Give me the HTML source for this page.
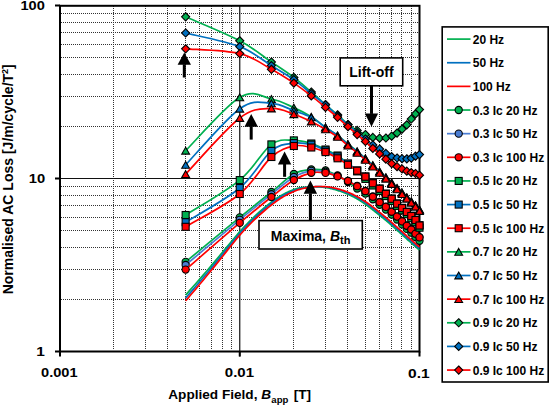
<!DOCTYPE html><html><head><meta charset="utf-8"><style>
html,body{margin:0;padding:0;background:#fff;}
body{width:550px;height:406px;overflow:hidden;position:relative;font-family:"Liberation Sans",sans-serif;}
svg{position:absolute;left:0;top:0;}
.t{font-family:"Liberation Sans",sans-serif;font-weight:bold;fill:#000;}
</style></head><body>
<svg width="550" height="406" viewBox="0 0 550 406">
<g stroke="#000" stroke-width="1" stroke-dasharray="1 1" opacity="0.8"><line x1="61" y1="299.50" x2="418" y2="299.50"/><line x1="61" y1="269.50" x2="418" y2="269.50"/><line x1="61" y1="247.50" x2="418" y2="247.50"/><line x1="61" y1="230.50" x2="418" y2="230.50"/><line x1="61" y1="217.50" x2="418" y2="217.50"/><line x1="61" y1="205.50" x2="418" y2="205.50"/><line x1="61" y1="195.50" x2="418" y2="195.50"/><line x1="61" y1="186.50" x2="418" y2="186.50"/><line x1="61" y1="126.50" x2="418" y2="126.50"/><line x1="61" y1="96.50" x2="418" y2="96.50"/><line x1="61" y1="74.50" x2="418" y2="74.50"/><line x1="61" y1="57.50" x2="418" y2="57.50"/><line x1="61" y1="44.50" x2="418" y2="44.50"/><line x1="61" y1="32.50" x2="418" y2="32.50"/><line x1="61" y1="22.50" x2="418" y2="22.50"/><line x1="61" y1="13.50" x2="418" y2="13.50"/><line x1="113.50" y1="6" x2="113.50" y2="350"/><line x1="145.50" y1="6" x2="145.50" y2="350"/><line x1="167.50" y1="6" x2="167.50" y2="350"/><line x1="185.50" y1="6" x2="185.50" y2="350"/><line x1="199.50" y1="6" x2="199.50" y2="350"/><line x1="211.50" y1="6" x2="211.50" y2="350"/><line x1="222.50" y1="6" x2="222.50" y2="350"/><line x1="231.50" y1="6" x2="231.50" y2="350"/><line x1="293.50" y1="6" x2="293.50" y2="350"/><line x1="325.50" y1="6" x2="325.50" y2="350"/><line x1="347.50" y1="6" x2="347.50" y2="350"/><line x1="365.50" y1="6" x2="365.50" y2="350"/><line x1="379.50" y1="6" x2="379.50" y2="350"/><line x1="391.50" y1="6" x2="391.50" y2="350"/><line x1="401.50" y1="6" x2="401.50" y2="350"/><line x1="411.50" y1="6" x2="411.50" y2="350"/></g>
<g stroke="#111" stroke-width="1.2">
<line x1="55.00" y1="178.50" x2="419.50" y2="178.50"/>
<line x1="239.75" y1="5.50" x2="239.75" y2="356.50"/>
</g>
<rect x="60.00" y="5.80" width="359.50" height="345.70" fill="none" stroke="#000" stroke-width="2"/>
<path d="M185.64,295.00 L187.58,292.85 L189.97,290.18 L192.76,287.03 L195.89,283.49 L199.31,279.59 L202.95,275.39 L206.78,270.96 L210.72,266.34 L214.72,261.60 L218.73,256.81 L222.68,252.04 L226.53,247.39 L230.22,242.93 L233.69,238.75 L236.89,234.95 L239.75,231.60 L242.36,228.79 L244.84,226.17 L247.21,223.73 L249.46,221.44 L251.61,219.31 L253.67,217.31 L255.65,215.43 L257.55,213.67 L259.40,212.00 L261.19,210.43 L262.94,208.93 L264.66,207.49 L266.36,206.09 L268.04,204.74 L269.72,203.41 L271.40,202.10 L273.07,200.83 L274.68,199.66 L276.25,198.56 L277.78,197.55 L279.27,196.61 L280.72,195.74 L282.14,194.93 L283.52,194.17 L284.88,193.48 L286.21,192.82 L287.52,192.21 L288.82,191.64 L290.09,191.09 L291.36,190.58 L292.61,190.08 L293.86,189.60 L295.09,189.16 L296.30,188.77 L297.48,188.44 L298.64,188.16 L299.78,187.92 L300.90,187.72 L302.00,187.56 L303.08,187.43 L304.15,187.33 L305.20,187.24 L306.24,187.17 L307.27,187.11 L308.28,187.06 L309.29,187.01 L310.29,186.96 L311.28,186.90 L312.26,186.84 L313.23,186.80 L314.18,186.78 L315.11,186.76 L316.04,186.77 L316.95,186.78 L317.85,186.81 L318.73,186.85 L319.61,186.90 L320.48,186.96 L321.33,187.03 L322.18,187.11 L323.03,187.20 L323.86,187.29 L324.69,187.39 L325.51,187.50 L326.33,187.62 L327.13,187.75 L327.93,187.89 L328.71,188.04 L329.49,188.20 L330.26,188.38 L331.02,188.56 L331.77,188.75 L332.51,188.94 L333.25,189.14 L333.98,189.35 L334.70,189.55 L335.42,189.76 L336.13,189.98 L336.84,190.19 L337.55,190.40 L338.24,190.61 L338.93,190.83 L339.62,191.05 L340.29,191.28 L340.96,191.51 L341.63,191.74 L342.28,191.98 L342.94,192.22 L343.58,192.46 L344.22,192.71 L344.86,192.96 L345.49,193.21 L346.11,193.47 L346.74,193.72 L347.36,193.99 L347.97,194.25 L348.58,194.52 L349.19,194.79 L349.78,195.06 L350.38,195.34 L350.97,195.62 L351.55,195.90 L352.13,196.19 L352.71,196.48 L353.28,196.77 L353.84,197.07 L354.40,197.37 L354.96,197.67 L355.52,197.97 L356.07,198.28 L356.62,198.59 L357.16,198.90 L357.71,199.21 L358.24,199.53 L358.78,199.86 L359.31,200.18 L359.83,200.51 L360.35,200.84 L360.87,201.18 L361.39,201.51 L361.90,201.85 L362.41,202.19 L362.91,202.53 L363.41,202.88 L363.91,203.22 L364.41,203.56 L364.90,203.91 L365.39,204.25 L365.88,204.60 L366.36,204.94 L366.84,205.29 L367.32,205.65 L367.79,206.00 L368.27,206.36 L368.73,206.71 L369.20,207.07 L369.66,207.43 L370.12,207.79 L370.58,208.14 L371.03,208.50 L371.49,208.85 L371.94,209.20 L372.38,209.55 L372.83,209.90 L373.27,210.24 L373.71,210.59 L374.15,210.93 L374.59,211.27 L375.02,211.62 L375.45,211.96 L375.88,212.30 L376.30,212.63 L376.72,212.97 L377.14,213.31 L377.56,213.64 L377.98,213.98 L378.39,214.31 L378.80,214.64 L379.21,214.97 L379.62,215.30 L380.03,215.63 L380.43,215.95 L380.83,216.28 L381.23,216.60 L381.63,216.92 L382.03,217.24 L382.42,217.56 L382.81,217.88 L383.20,218.19 L383.59,218.51 L383.97,218.82 L384.35,219.14 L384.74,219.45 L385.12,219.77 L385.49,220.08 L385.87,220.40 L386.25,220.72 L386.62,221.03 L386.99,221.35 L387.36,221.66 L387.73,221.98 L388.09,222.29 L388.46,222.61 L388.82,222.92 L389.18,223.23 L389.54,223.54 L389.89,223.86 L390.25,224.17 L390.60,224.48 L390.96,224.79 L391.31,225.09 L391.66,225.40 L392.00,225.71 L392.35,226.01 L392.70,226.32 L393.04,226.62 L393.38,226.92 L393.72,227.23 L394.06,227.53 L394.40,227.83 L394.73,228.13 L395.07,228.43 L395.40,228.73 L395.73,229.03 L396.06,229.32 L396.39,229.62 L396.72,229.91 L397.04,230.20 L397.37,230.49 L397.69,230.78 L398.01,231.07 L398.33,231.35 L398.65,231.64 L398.97,231.92 L399.29,232.20 L399.60,232.48 L399.92,232.76 L400.23,233.04 L400.54,233.32 L400.85,233.60 L401.16,233.87 L401.47,234.15 L401.77,234.42 L402.08,234.70 L402.39,234.97 L402.69,235.25 L402.99,235.52 L403.29,235.80 L403.59,236.07 L403.89,236.34 L404.19,236.62 L404.48,236.89 L404.78,237.16 L405.07,237.43 L405.36,237.69 L405.66,237.96 L405.95,238.22 L406.24,238.48 L406.53,238.74 L406.81,239.00 L407.10,239.26 L407.39,239.51 L407.67,239.76 L407.95,240.01 L408.24,240.26 L408.52,240.50 L408.80,240.74 L409.08,240.99 L409.35,241.23 L409.63,241.47 L409.91,241.71 L410.18,241.95 L410.46,242.19 L410.73,242.42 L411.00,242.66 L411.28,242.90 L411.55,243.14 L411.82,243.37 L412.08,243.61 L412.35,243.85 L412.62,244.08 L412.89,244.32 L413.15,244.55 L413.41,244.78 L413.68,245.01 L413.94,245.24 L414.20,245.47 L414.46,245.70 L414.72,245.93 L414.98,246.15 L415.24,246.38 L415.50,246.60 L415.76,246.83 L416.03,247.06 L416.32,247.30 L416.61,247.55 L416.90,247.80 L417.19,248.05 L417.48,248.29 L417.76,248.53 L418.04,248.76 L418.30,248.99 L418.55,249.20 L418.79,249.40 L419.00,249.58 L419.19,249.74 L419.36,249.88 L419.50,250.00" fill="none" stroke="#00B050" stroke-width="1.7" stroke-linejoin="round"/>
<path d="M185.64,298.00 L187.58,295.80 L189.97,293.07 L192.76,289.86 L195.89,286.23 L199.31,282.25 L202.95,277.96 L206.78,273.43 L210.72,268.72 L214.72,263.88 L218.73,258.99 L222.68,254.13 L226.53,249.38 L230.22,244.84 L233.69,240.58 L236.89,236.71 L239.75,233.30 L242.36,230.44 L244.84,227.77 L247.21,225.28 L249.46,222.95 L251.61,220.78 L253.67,218.75 L255.65,216.84 L257.55,215.05 L259.40,213.36 L261.19,211.76 L262.94,210.23 L264.66,208.77 L266.36,207.36 L268.04,205.98 L269.72,204.64 L271.40,203.30 L273.07,202.01 L274.68,200.82 L276.25,199.72 L277.78,198.70 L279.27,197.75 L280.72,196.87 L282.14,196.06 L283.52,195.30 L284.88,194.60 L286.21,193.94 L287.52,193.32 L288.82,192.73 L290.09,192.17 L291.36,191.63 L292.61,191.11 L293.86,190.60 L295.09,190.12 L296.30,189.69 L297.48,189.31 L298.64,188.98 L299.78,188.68 L300.90,188.43 L302.00,188.20 L303.08,188.01 L304.15,187.84 L305.20,187.69 L306.24,187.55 L307.27,187.43 L308.28,187.32 L309.29,187.22 L310.29,187.11 L311.28,187.00 L312.26,186.90 L313.23,186.81 L314.18,186.74 L315.11,186.69 L316.04,186.65 L316.95,186.63 L317.85,186.62 L318.73,186.62 L319.61,186.64 L320.48,186.67 L321.33,186.70 L322.18,186.75 L323.03,186.80 L323.86,186.86 L324.69,186.93 L325.51,187.00 L326.33,187.08 L327.13,187.18 L327.93,187.28 L328.71,187.40 L329.49,187.53 L330.26,187.67 L331.02,187.81 L331.77,187.97 L332.51,188.13 L333.25,188.30 L333.98,188.47 L334.70,188.65 L335.42,188.84 L336.13,189.02 L336.84,189.21 L337.55,189.40 L338.24,189.59 L338.93,189.79 L339.62,190.00 L340.29,190.21 L340.96,190.43 L341.63,190.66 L342.28,190.89 L342.94,191.12 L343.58,191.36 L344.22,191.60 L344.86,191.84 L345.49,192.09 L346.11,192.34 L346.74,192.59 L347.36,192.84 L347.97,193.10 L348.58,193.36 L349.19,193.62 L349.78,193.88 L350.38,194.15 L350.97,194.42 L351.55,194.70 L352.13,194.98 L352.71,195.26 L353.28,195.54 L353.84,195.83 L354.40,196.12 L354.96,196.41 L355.52,196.70 L356.07,197.00 L356.62,197.30 L357.16,197.60 L357.71,197.91 L358.24,198.21 L358.78,198.53 L359.31,198.84 L359.83,199.16 L360.35,199.49 L360.87,199.81 L361.39,200.14 L361.90,200.47 L362.41,200.80 L362.91,201.13 L363.41,201.46 L363.91,201.80 L364.41,202.13 L364.90,202.47 L365.39,202.80 L365.88,203.14 L366.36,203.47 L366.84,203.81 L367.32,204.15 L367.79,204.50 L368.27,204.84 L368.73,205.19 L369.20,205.53 L369.66,205.88 L370.12,206.22 L370.58,206.57 L371.03,206.92 L371.49,207.26 L371.94,207.61 L372.38,207.96 L372.83,208.30 L373.27,208.64 L373.71,208.99 L374.15,209.34 L374.59,209.68 L375.02,210.03 L375.45,210.38 L375.88,210.73 L376.30,211.08 L376.72,211.42 L377.14,211.77 L377.56,212.11 L377.98,212.45 L378.39,212.79 L378.80,213.13 L379.21,213.47 L379.62,213.80 L380.03,214.13 L380.43,214.46 L380.83,214.78 L381.23,215.11 L381.63,215.43 L382.03,215.75 L382.42,216.06 L382.81,216.38 L383.20,216.70 L383.59,217.01 L383.97,217.33 L384.35,217.64 L384.74,217.96 L385.12,218.27 L385.49,218.58 L385.87,218.90 L386.25,219.22 L386.62,219.53 L386.99,219.85 L387.36,220.16 L387.73,220.48 L388.09,220.79 L388.46,221.11 L388.82,221.42 L389.18,221.73 L389.54,222.04 L389.89,222.36 L390.25,222.67 L390.60,222.98 L390.96,223.29 L391.31,223.59 L391.66,223.90 L392.00,224.21 L392.35,224.51 L392.70,224.82 L393.04,225.12 L393.38,225.42 L393.72,225.73 L394.06,226.03 L394.40,226.33 L394.73,226.63 L395.07,226.93 L395.40,227.23 L395.73,227.53 L396.06,227.82 L396.39,228.12 L396.72,228.41 L397.04,228.70 L397.37,228.99 L397.69,229.28 L398.01,229.57 L398.33,229.85 L398.65,230.14 L398.97,230.42 L399.29,230.70 L399.60,230.98 L399.92,231.26 L400.23,231.54 L400.54,231.82 L400.85,232.10 L401.16,232.37 L401.47,232.65 L401.77,232.92 L402.08,233.20 L402.39,233.47 L402.69,233.75 L402.99,234.02 L403.29,234.30 L403.59,234.57 L403.89,234.84 L404.19,235.12 L404.48,235.39 L404.78,235.66 L405.07,235.93 L405.36,236.19 L405.66,236.46 L405.95,236.72 L406.24,236.98 L406.53,237.24 L406.81,237.50 L407.10,237.76 L407.39,238.01 L407.67,238.26 L407.95,238.51 L408.24,238.76 L408.52,239.00 L408.80,239.24 L409.08,239.49 L409.35,239.73 L409.63,239.97 L409.91,240.21 L410.18,240.45 L410.46,240.69 L410.73,240.92 L411.00,241.16 L411.28,241.40 L411.55,241.64 L411.82,241.87 L412.08,242.11 L412.35,242.35 L412.62,242.58 L412.89,242.82 L413.15,243.05 L413.41,243.28 L413.68,243.51 L413.94,243.74 L414.20,243.97 L414.46,244.20 L414.72,244.43 L414.98,244.65 L415.24,244.88 L415.50,245.10 L415.76,245.33 L416.03,245.56 L416.32,245.80 L416.61,246.05 L416.90,246.30 L417.19,246.55 L417.48,246.79 L417.76,247.03 L418.04,247.26 L418.30,247.49 L418.55,247.70 L418.79,247.90 L419.00,248.08 L419.19,248.24 L419.36,248.38 L419.50,248.50" fill="none" stroke="#0070C0" stroke-width="1.7" stroke-linejoin="round"/>
<path d="M185.64,300.80 L187.58,298.57 L189.97,295.79 L192.76,292.52 L195.89,288.83 L199.31,284.78 L202.95,280.42 L206.78,275.82 L210.72,271.02 L214.72,266.11 L218.73,261.14 L222.68,256.21 L226.53,251.39 L230.22,246.78 L233.69,242.47 L236.89,238.55 L239.75,235.10 L242.36,232.21 L244.84,229.52 L247.21,227.02 L249.46,224.68 L251.61,222.51 L253.67,220.48 L255.65,218.57 L257.55,216.79 L259.40,215.10 L261.19,213.51 L262.94,211.99 L264.66,210.52 L266.36,209.11 L268.04,207.72 L269.72,206.36 L271.40,205.00 L273.07,203.68 L274.68,202.46 L276.25,201.31 L277.78,200.24 L279.27,199.25 L280.72,198.32 L282.14,197.45 L283.52,196.64 L284.88,195.88 L286.21,195.17 L287.52,194.49 L288.82,193.85 L290.09,193.23 L291.36,192.64 L292.61,192.06 L293.86,191.50 L295.09,190.97 L296.30,190.49 L297.48,190.05 L298.64,189.67 L299.78,189.32 L300.90,189.01 L302.00,188.73 L303.08,188.48 L304.15,188.26 L305.20,188.06 L306.24,187.87 L307.27,187.71 L308.28,187.55 L309.29,187.40 L310.29,187.25 L311.28,187.10 L312.26,186.96 L313.23,186.84 L314.18,186.74 L315.11,186.66 L316.04,186.60 L316.95,186.55 L317.85,186.51 L318.73,186.49 L319.61,186.49 L320.48,186.49 L321.33,186.51 L322.18,186.53 L323.03,186.56 L323.86,186.60 L324.69,186.65 L325.51,186.70 L326.33,186.76 L327.13,186.83 L327.93,186.92 L328.71,187.02 L329.49,187.12 L330.26,187.24 L331.02,187.37 L331.77,187.51 L332.51,187.65 L333.25,187.80 L333.98,187.96 L334.70,188.12 L335.42,188.28 L336.13,188.45 L336.84,188.63 L337.55,188.80 L338.24,188.98 L338.93,189.17 L339.62,189.36 L340.29,189.56 L340.96,189.76 L341.63,189.97 L342.28,190.19 L342.94,190.41 L343.58,190.64 L344.22,190.87 L344.86,191.10 L345.49,191.34 L346.11,191.57 L346.74,191.81 L347.36,192.06 L347.97,192.30 L348.58,192.55 L349.19,192.79 L349.78,193.05 L350.38,193.30 L350.97,193.56 L351.55,193.82 L352.13,194.09 L352.71,194.36 L353.28,194.63 L353.84,194.90 L354.40,195.18 L354.96,195.46 L355.52,195.74 L356.07,196.02 L356.62,196.31 L357.16,196.60 L357.71,196.89 L358.24,197.19 L358.78,197.49 L359.31,197.79 L359.83,198.10 L360.35,198.41 L360.87,198.72 L361.39,199.04 L361.90,199.35 L362.41,199.67 L362.91,199.99 L363.41,200.31 L363.91,200.63 L364.41,200.96 L364.90,201.28 L365.39,201.60 L365.88,201.92 L366.36,202.25 L366.84,202.57 L367.32,202.90 L367.79,203.23 L368.27,203.56 L368.73,203.89 L369.20,204.23 L369.66,204.56 L370.12,204.89 L370.58,205.23 L371.03,205.56 L371.49,205.90 L371.94,206.23 L372.38,206.57 L372.83,206.90 L373.27,207.24 L373.71,207.57 L374.15,207.91 L374.59,208.25 L375.02,208.59 L375.45,208.93 L375.88,209.27 L376.30,209.61 L376.72,209.95 L377.14,210.29 L377.56,210.63 L377.98,210.97 L378.39,211.30 L378.80,211.64 L379.21,211.97 L379.62,212.30 L380.03,212.63 L380.43,212.95 L380.83,213.28 L381.23,213.60 L381.63,213.92 L382.03,214.24 L382.42,214.56 L382.81,214.88 L383.20,215.19 L383.59,215.51 L383.97,215.82 L384.35,216.14 L384.74,216.45 L385.12,216.77 L385.49,217.08 L385.87,217.40 L386.25,217.72 L386.62,218.03 L386.99,218.35 L387.36,218.66 L387.73,218.98 L388.09,219.29 L388.46,219.61 L388.82,219.92 L389.18,220.23 L389.54,220.54 L389.89,220.86 L390.25,221.17 L390.60,221.48 L390.96,221.79 L391.31,222.09 L391.66,222.40 L392.00,222.71 L392.35,223.01 L392.70,223.32 L393.04,223.62 L393.38,223.92 L393.72,224.23 L394.06,224.53 L394.40,224.83 L394.73,225.13 L395.07,225.43 L395.40,225.73 L395.73,226.03 L396.06,226.32 L396.39,226.62 L396.72,226.91 L397.04,227.20 L397.37,227.49 L397.69,227.78 L398.01,228.07 L398.33,228.35 L398.65,228.64 L398.97,228.92 L399.29,229.20 L399.60,229.48 L399.92,229.76 L400.23,230.04 L400.54,230.32 L400.85,230.60 L401.16,230.87 L401.47,231.15 L401.77,231.42 L402.08,231.70 L402.39,231.97 L402.69,232.25 L402.99,232.52 L403.29,232.80 L403.59,233.07 L403.89,233.34 L404.19,233.62 L404.48,233.89 L404.78,234.16 L405.07,234.43 L405.36,234.69 L405.66,234.96 L405.95,235.22 L406.24,235.48 L406.53,235.74 L406.81,236.00 L407.10,236.26 L407.39,236.51 L407.67,236.76 L407.95,237.01 L408.24,237.26 L408.52,237.50 L408.80,237.74 L409.08,237.99 L409.35,238.23 L409.63,238.47 L409.91,238.71 L410.18,238.95 L410.46,239.19 L410.73,239.42 L411.00,239.66 L411.28,239.90 L411.55,240.14 L411.82,240.37 L412.08,240.61 L412.35,240.85 L412.62,241.08 L412.89,241.32 L413.15,241.55 L413.41,241.78 L413.68,242.01 L413.94,242.24 L414.20,242.47 L414.46,242.70 L414.72,242.93 L414.98,243.15 L415.24,243.38 L415.50,243.60 L415.76,243.83 L416.03,244.06 L416.32,244.30 L416.61,244.55 L416.90,244.80 L417.19,245.05 L417.48,245.29 L417.76,245.53 L418.04,245.76 L418.30,245.99 L418.55,246.20 L418.79,246.40 L419.00,246.58 L419.19,246.74 L419.36,246.88 L419.50,247.00" fill="none" stroke="#FF0000" stroke-width="1.7" stroke-linejoin="round"/>
<path d="M185.64,261.90 C194.66,254.48 225.46,229.05 239.75,217.40 C254.04,205.75 262.38,199.23 271.40,192.00 C280.42,184.77 287.21,177.75 293.86,174.00 C300.51,170.25 306.00,170.08 311.28,169.50 C316.56,168.92 321.13,169.50 325.51,170.50 C329.89,171.50 333.80,173.58 337.55,175.50 C341.29,177.42 344.70,179.83 347.97,182.00 C351.24,184.17 354.26,186.57 357.16,188.50 C360.07,190.43 362.78,191.80 365.39,193.60 C368.00,195.40 370.46,197.43 372.83,199.30 C375.20,201.17 377.45,203.08 379.62,204.80 C381.80,206.52 383.87,207.97 385.87,209.60 C387.88,211.23 389.79,212.95 391.66,214.60 C393.52,216.25 395.30,217.87 397.04,219.50 C398.78,221.13 400.45,222.83 402.08,224.40 C403.71,225.97 405.28,227.52 406.81,228.90 C408.35,230.28 409.83,231.35 411.28,232.70 C412.72,234.05 414.12,235.65 415.50,237.00 C416.87,238.35 418.83,240.17 419.50,240.80" fill="none" stroke="#00B050" stroke-width="1.7" stroke-linejoin="round"/>
<circle cx="185.64" cy="261.90" r="3.60" fill="#00B050" stroke="#000" stroke-width="1.10"/><circle cx="239.75" cy="217.40" r="3.60" fill="#00B050" stroke="#000" stroke-width="1.10"/><circle cx="271.40" cy="192.00" r="3.60" fill="#00B050" stroke="#000" stroke-width="1.10"/><circle cx="293.86" cy="174.00" r="3.60" fill="#00B050" stroke="#000" stroke-width="1.10"/><circle cx="311.28" cy="169.50" r="3.60" fill="#00B050" stroke="#000" stroke-width="1.10"/><circle cx="325.51" cy="170.50" r="3.60" fill="#00B050" stroke="#000" stroke-width="1.10"/><circle cx="337.55" cy="175.50" r="3.60" fill="#00B050" stroke="#000" stroke-width="1.10"/><circle cx="347.97" cy="182.00" r="3.60" fill="#00B050" stroke="#000" stroke-width="1.10"/><circle cx="357.16" cy="188.50" r="3.60" fill="#00B050" stroke="#000" stroke-width="1.10"/><circle cx="365.39" cy="193.60" r="3.60" fill="#00B050" stroke="#000" stroke-width="1.10"/><circle cx="372.83" cy="199.30" r="3.60" fill="#00B050" stroke="#000" stroke-width="1.10"/><circle cx="379.62" cy="204.80" r="3.60" fill="#00B050" stroke="#000" stroke-width="1.10"/><circle cx="385.87" cy="209.60" r="3.60" fill="#00B050" stroke="#000" stroke-width="1.10"/><circle cx="391.66" cy="214.60" r="3.60" fill="#00B050" stroke="#000" stroke-width="1.10"/><circle cx="397.04" cy="219.50" r="3.60" fill="#00B050" stroke="#000" stroke-width="1.10"/><circle cx="402.08" cy="224.40" r="3.60" fill="#00B050" stroke="#000" stroke-width="1.10"/><circle cx="406.81" cy="228.90" r="3.60" fill="#00B050" stroke="#000" stroke-width="1.10"/><circle cx="411.28" cy="232.70" r="3.60" fill="#00B050" stroke="#000" stroke-width="1.10"/><circle cx="415.50" cy="237.00" r="3.60" fill="#00B050" stroke="#000" stroke-width="1.10"/><circle cx="419.50" cy="240.80" r="3.60" fill="#00B050" stroke="#000" stroke-width="1.10"/>
<path d="M185.64,265.00 C194.66,257.47 225.46,231.60 239.75,219.80 C254.04,208.00 262.38,201.33 271.40,194.20 C280.42,187.07 287.21,180.90 293.86,177.00 C300.51,173.10 306.00,171.67 311.28,170.80 C316.56,169.93 321.13,170.93 325.51,171.80 C329.89,172.67 333.80,174.47 337.55,176.00 C341.29,177.53 344.70,179.35 347.97,181.00 C351.24,182.65 354.26,184.25 357.16,185.90 C360.07,187.55 362.78,189.13 365.39,190.90 C368.00,192.67 370.46,194.67 372.83,196.50 C375.20,198.33 377.45,200.22 379.62,201.90 C381.80,203.58 383.87,205.00 385.87,206.60 C387.88,208.20 389.79,209.88 391.66,211.50 C393.52,213.12 395.30,214.70 397.04,216.30 C398.78,217.90 400.45,219.57 402.08,221.10 C403.71,222.63 405.28,224.15 406.81,225.50 C408.35,226.85 409.83,227.88 411.28,229.20 C412.72,230.52 414.12,232.08 415.50,233.40 C416.87,234.72 418.83,236.48 419.50,237.10" fill="none" stroke="#4A7DD3" stroke-width="1.7" stroke-linejoin="round"/>
<circle cx="185.64" cy="265.00" r="3.60" fill="#4A7DD3" stroke="#000" stroke-width="1.10"/><circle cx="239.75" cy="219.80" r="3.60" fill="#4A7DD3" stroke="#000" stroke-width="1.10"/><circle cx="271.40" cy="194.20" r="3.60" fill="#4A7DD3" stroke="#000" stroke-width="1.10"/><circle cx="293.86" cy="177.00" r="3.60" fill="#4A7DD3" stroke="#000" stroke-width="1.10"/><circle cx="311.28" cy="170.80" r="3.60" fill="#4A7DD3" stroke="#000" stroke-width="1.10"/><circle cx="325.51" cy="171.80" r="3.60" fill="#4A7DD3" stroke="#000" stroke-width="1.10"/><circle cx="337.55" cy="176.00" r="3.60" fill="#4A7DD3" stroke="#000" stroke-width="1.10"/><circle cx="347.97" cy="181.00" r="3.60" fill="#4A7DD3" stroke="#000" stroke-width="1.10"/><circle cx="357.16" cy="185.90" r="3.60" fill="#4A7DD3" stroke="#000" stroke-width="1.10"/><circle cx="365.39" cy="190.90" r="3.60" fill="#4A7DD3" stroke="#000" stroke-width="1.10"/><circle cx="372.83" cy="196.50" r="3.60" fill="#4A7DD3" stroke="#000" stroke-width="1.10"/><circle cx="379.62" cy="201.90" r="3.60" fill="#4A7DD3" stroke="#000" stroke-width="1.10"/><circle cx="385.87" cy="206.60" r="3.60" fill="#4A7DD3" stroke="#000" stroke-width="1.10"/><circle cx="391.66" cy="211.50" r="3.60" fill="#4A7DD3" stroke="#000" stroke-width="1.10"/><circle cx="397.04" cy="216.30" r="3.60" fill="#4A7DD3" stroke="#000" stroke-width="1.10"/><circle cx="402.08" cy="221.10" r="3.60" fill="#4A7DD3" stroke="#000" stroke-width="1.10"/><circle cx="406.81" cy="225.50" r="3.60" fill="#4A7DD3" stroke="#000" stroke-width="1.10"/><circle cx="411.28" cy="229.20" r="3.60" fill="#4A7DD3" stroke="#000" stroke-width="1.10"/><circle cx="415.50" cy="233.40" r="3.60" fill="#4A7DD3" stroke="#000" stroke-width="1.10"/><circle cx="419.50" cy="237.10" r="3.60" fill="#4A7DD3" stroke="#000" stroke-width="1.10"/>
<path d="M185.64,269.60 C194.66,261.82 225.46,235.00 239.75,222.90 C254.04,210.80 262.38,204.15 271.40,197.00 C280.42,189.85 287.21,184.03 293.86,180.00 C300.51,175.97 306.00,173.98 311.28,172.80 C316.56,171.62 321.13,172.30 325.51,172.90 C329.89,173.50 333.80,175.05 337.55,176.40 C341.29,177.75 344.70,179.37 347.97,181.00 C351.24,182.63 354.26,184.50 357.16,186.20 C360.07,187.90 362.78,189.43 365.39,191.20 C368.00,192.97 370.46,194.97 372.83,196.80 C375.20,198.63 377.45,200.52 379.62,202.20 C381.80,203.88 383.87,205.30 385.87,206.90 C387.88,208.50 389.79,210.18 391.66,211.80 C393.52,213.42 395.30,215.00 397.04,216.60 C398.78,218.20 400.45,219.87 402.08,221.40 C403.71,222.93 405.28,224.45 406.81,225.80 C408.35,227.15 409.83,228.18 411.28,229.50 C412.72,230.82 414.12,232.38 415.50,233.70 C416.87,235.02 418.83,236.78 419.50,237.40" fill="none" stroke="#FF0000" stroke-width="1.7" stroke-linejoin="round"/>
<circle cx="185.64" cy="269.60" r="3.60" fill="#FF0000" stroke="#000" stroke-width="1.10"/><circle cx="239.75" cy="222.90" r="3.60" fill="#FF0000" stroke="#000" stroke-width="1.10"/><circle cx="271.40" cy="197.00" r="3.60" fill="#FF0000" stroke="#000" stroke-width="1.10"/><circle cx="293.86" cy="180.00" r="3.60" fill="#FF0000" stroke="#000" stroke-width="1.10"/><circle cx="311.28" cy="172.80" r="3.60" fill="#FF0000" stroke="#000" stroke-width="1.10"/><circle cx="325.51" cy="172.90" r="3.60" fill="#FF0000" stroke="#000" stroke-width="1.10"/><circle cx="337.55" cy="176.40" r="3.60" fill="#FF0000" stroke="#000" stroke-width="1.10"/><circle cx="347.97" cy="181.00" r="3.60" fill="#FF0000" stroke="#000" stroke-width="1.10"/><circle cx="357.16" cy="186.20" r="3.60" fill="#FF0000" stroke="#000" stroke-width="1.10"/><circle cx="365.39" cy="191.20" r="3.60" fill="#FF0000" stroke="#000" stroke-width="1.10"/><circle cx="372.83" cy="196.80" r="3.60" fill="#FF0000" stroke="#000" stroke-width="1.10"/><circle cx="379.62" cy="202.20" r="3.60" fill="#FF0000" stroke="#000" stroke-width="1.10"/><circle cx="385.87" cy="206.90" r="3.60" fill="#FF0000" stroke="#000" stroke-width="1.10"/><circle cx="391.66" cy="211.80" r="3.60" fill="#FF0000" stroke="#000" stroke-width="1.10"/><circle cx="397.04" cy="216.60" r="3.60" fill="#FF0000" stroke="#000" stroke-width="1.10"/><circle cx="402.08" cy="221.40" r="3.60" fill="#FF0000" stroke="#000" stroke-width="1.10"/><circle cx="406.81" cy="225.80" r="3.60" fill="#FF0000" stroke="#000" stroke-width="1.10"/><circle cx="411.28" cy="229.50" r="3.60" fill="#FF0000" stroke="#000" stroke-width="1.10"/><circle cx="415.50" cy="233.70" r="3.60" fill="#FF0000" stroke="#000" stroke-width="1.10"/><circle cx="419.50" cy="237.40" r="3.60" fill="#FF0000" stroke="#000" stroke-width="1.10"/>
<path d="M185.64,215.00 C194.66,209.18 225.46,191.87 239.75,180.10 C254.04,168.33 262.38,151.02 271.40,144.40 C280.42,137.78 287.21,140.55 293.86,140.40 C300.51,140.25 306.00,141.98 311.28,143.50 C316.56,145.02 321.13,147.50 325.51,149.50 C329.89,151.50 333.80,153.12 337.55,155.50 C341.29,157.88 344.70,161.15 347.97,163.80 C351.24,166.45 354.26,168.88 357.16,171.40 C360.07,173.92 362.78,176.55 365.39,178.90 C368.00,181.25 370.46,183.48 372.83,185.50 C375.20,187.52 377.45,189.23 379.62,191.00 C381.80,192.77 383.87,194.43 385.87,196.10 C387.88,197.77 389.79,199.37 391.66,201.00 C393.52,202.63 395.30,204.35 397.04,205.90 C398.78,207.45 400.45,208.92 402.08,210.30 C403.71,211.68 405.28,212.88 406.81,214.20 C408.35,215.52 409.83,216.87 411.28,218.20 C412.72,219.53 414.12,220.62 415.50,222.20 C416.87,223.78 418.83,226.78 419.50,227.70" fill="none" stroke="#00B050" stroke-width="1.7" stroke-linejoin="round"/>
<rect x="182.14" y="211.50" width="7.00" height="7.00" fill="#00B050" stroke="#000" stroke-width="1.10"/><rect x="236.25" y="176.60" width="7.00" height="7.00" fill="#00B050" stroke="#000" stroke-width="1.10"/><rect x="267.90" y="140.90" width="7.00" height="7.00" fill="#00B050" stroke="#000" stroke-width="1.10"/><rect x="290.36" y="136.90" width="7.00" height="7.00" fill="#00B050" stroke="#000" stroke-width="1.10"/><rect x="307.78" y="140.00" width="7.00" height="7.00" fill="#00B050" stroke="#000" stroke-width="1.10"/><rect x="322.01" y="146.00" width="7.00" height="7.00" fill="#00B050" stroke="#000" stroke-width="1.10"/><rect x="334.05" y="152.00" width="7.00" height="7.00" fill="#00B050" stroke="#000" stroke-width="1.10"/><rect x="344.47" y="160.30" width="7.00" height="7.00" fill="#00B050" stroke="#000" stroke-width="1.10"/><rect x="353.66" y="167.90" width="7.00" height="7.00" fill="#00B050" stroke="#000" stroke-width="1.10"/><rect x="361.89" y="175.40" width="7.00" height="7.00" fill="#00B050" stroke="#000" stroke-width="1.10"/><rect x="369.33" y="182.00" width="7.00" height="7.00" fill="#00B050" stroke="#000" stroke-width="1.10"/><rect x="376.12" y="187.50" width="7.00" height="7.00" fill="#00B050" stroke="#000" stroke-width="1.10"/><rect x="382.37" y="192.60" width="7.00" height="7.00" fill="#00B050" stroke="#000" stroke-width="1.10"/><rect x="388.16" y="197.50" width="7.00" height="7.00" fill="#00B050" stroke="#000" stroke-width="1.10"/><rect x="393.54" y="202.40" width="7.00" height="7.00" fill="#00B050" stroke="#000" stroke-width="1.10"/><rect x="398.58" y="206.80" width="7.00" height="7.00" fill="#00B050" stroke="#000" stroke-width="1.10"/><rect x="403.31" y="210.70" width="7.00" height="7.00" fill="#00B050" stroke="#000" stroke-width="1.10"/><rect x="407.78" y="214.70" width="7.00" height="7.00" fill="#00B050" stroke="#000" stroke-width="1.10"/><rect x="412.00" y="218.70" width="7.00" height="7.00" fill="#00B050" stroke="#000" stroke-width="1.10"/><rect x="416.00" y="224.20" width="7.00" height="7.00" fill="#00B050" stroke="#000" stroke-width="1.10"/>
<path d="M185.64,222.20 C194.66,216.50 225.46,199.88 239.75,188.00 C254.04,176.12 262.38,158.38 271.40,150.90 C280.42,143.42 287.21,144.15 293.86,143.10 C300.51,142.05 306.00,143.38 311.28,144.60 C316.56,145.82 321.13,148.43 325.51,150.40 C329.89,152.37 333.80,154.22 337.55,156.40 C341.29,158.58 344.70,161.17 347.97,163.50 C351.24,165.83 354.26,168.25 357.16,170.40 C360.07,172.55 362.78,174.30 365.39,176.40 C368.00,178.50 370.46,180.98 372.83,183.00 C375.20,185.02 377.45,186.73 379.62,188.50 C381.80,190.27 383.87,191.93 385.87,193.60 C387.88,195.27 389.79,196.87 391.66,198.50 C393.52,200.13 395.30,201.85 397.04,203.40 C398.78,204.95 400.45,206.42 402.08,207.80 C403.71,209.18 405.28,210.38 406.81,211.70 C408.35,213.02 409.83,214.37 411.28,215.70 C412.72,217.03 414.12,218.12 415.50,219.70 C416.87,221.28 418.83,224.28 419.50,225.20" fill="none" stroke="#0070C0" stroke-width="1.7" stroke-linejoin="round"/>
<rect x="182.14" y="218.70" width="7.00" height="7.00" fill="#0070C0" stroke="#000" stroke-width="1.10"/><rect x="236.25" y="184.50" width="7.00" height="7.00" fill="#0070C0" stroke="#000" stroke-width="1.10"/><rect x="267.90" y="147.40" width="7.00" height="7.00" fill="#0070C0" stroke="#000" stroke-width="1.10"/><rect x="290.36" y="139.60" width="7.00" height="7.00" fill="#0070C0" stroke="#000" stroke-width="1.10"/><rect x="307.78" y="141.10" width="7.00" height="7.00" fill="#0070C0" stroke="#000" stroke-width="1.10"/><rect x="322.01" y="146.90" width="7.00" height="7.00" fill="#0070C0" stroke="#000" stroke-width="1.10"/><rect x="334.05" y="152.90" width="7.00" height="7.00" fill="#0070C0" stroke="#000" stroke-width="1.10"/><rect x="344.47" y="160.00" width="7.00" height="7.00" fill="#0070C0" stroke="#000" stroke-width="1.10"/><rect x="353.66" y="166.90" width="7.00" height="7.00" fill="#0070C0" stroke="#000" stroke-width="1.10"/><rect x="361.89" y="172.90" width="7.00" height="7.00" fill="#0070C0" stroke="#000" stroke-width="1.10"/><rect x="369.33" y="179.50" width="7.00" height="7.00" fill="#0070C0" stroke="#000" stroke-width="1.10"/><rect x="376.12" y="185.00" width="7.00" height="7.00" fill="#0070C0" stroke="#000" stroke-width="1.10"/><rect x="382.37" y="190.10" width="7.00" height="7.00" fill="#0070C0" stroke="#000" stroke-width="1.10"/><rect x="388.16" y="195.00" width="7.00" height="7.00" fill="#0070C0" stroke="#000" stroke-width="1.10"/><rect x="393.54" y="199.90" width="7.00" height="7.00" fill="#0070C0" stroke="#000" stroke-width="1.10"/><rect x="398.58" y="204.30" width="7.00" height="7.00" fill="#0070C0" stroke="#000" stroke-width="1.10"/><rect x="403.31" y="208.20" width="7.00" height="7.00" fill="#0070C0" stroke="#000" stroke-width="1.10"/><rect x="407.78" y="212.20" width="7.00" height="7.00" fill="#0070C0" stroke="#000" stroke-width="1.10"/><rect x="412.00" y="216.20" width="7.00" height="7.00" fill="#0070C0" stroke="#000" stroke-width="1.10"/><rect x="416.00" y="221.70" width="7.00" height="7.00" fill="#0070C0" stroke="#000" stroke-width="1.10"/>
<path d="M185.64,226.80 C194.66,221.33 225.46,205.63 239.75,194.00 C254.04,182.37 262.38,165.00 271.40,157.00 C280.42,149.00 287.21,147.58 293.86,146.00 C300.51,144.42 306.00,146.48 311.28,147.50 C316.56,148.52 321.13,150.30 325.51,152.10 C329.89,153.90 333.80,156.18 337.55,158.30 C341.29,160.42 344.70,162.73 347.97,164.80 C351.24,166.87 354.26,168.72 357.16,170.70 C360.07,172.68 362.78,174.60 365.39,176.70 C368.00,178.80 370.46,181.28 372.83,183.30 C375.20,185.32 377.45,187.03 379.62,188.80 C381.80,190.57 383.87,192.23 385.87,193.90 C387.88,195.57 389.79,197.17 391.66,198.80 C393.52,200.43 395.30,202.15 397.04,203.70 C398.78,205.25 400.45,206.72 402.08,208.10 C403.71,209.48 405.28,210.68 406.81,212.00 C408.35,213.32 409.83,214.67 411.28,216.00 C412.72,217.33 414.12,218.42 415.50,220.00 C416.87,221.58 418.83,224.58 419.50,225.50" fill="none" stroke="#FF0000" stroke-width="1.7" stroke-linejoin="round"/>
<rect x="182.14" y="223.30" width="7.00" height="7.00" fill="#FF0000" stroke="#000" stroke-width="1.10"/><rect x="236.25" y="190.50" width="7.00" height="7.00" fill="#FF0000" stroke="#000" stroke-width="1.10"/><rect x="267.90" y="153.50" width="7.00" height="7.00" fill="#FF0000" stroke="#000" stroke-width="1.10"/><rect x="290.36" y="142.50" width="7.00" height="7.00" fill="#FF0000" stroke="#000" stroke-width="1.10"/><rect x="307.78" y="144.00" width="7.00" height="7.00" fill="#FF0000" stroke="#000" stroke-width="1.10"/><rect x="322.01" y="148.60" width="7.00" height="7.00" fill="#FF0000" stroke="#000" stroke-width="1.10"/><rect x="334.05" y="154.80" width="7.00" height="7.00" fill="#FF0000" stroke="#000" stroke-width="1.10"/><rect x="344.47" y="161.30" width="7.00" height="7.00" fill="#FF0000" stroke="#000" stroke-width="1.10"/><rect x="353.66" y="167.20" width="7.00" height="7.00" fill="#FF0000" stroke="#000" stroke-width="1.10"/><rect x="361.89" y="173.20" width="7.00" height="7.00" fill="#FF0000" stroke="#000" stroke-width="1.10"/><rect x="369.33" y="179.80" width="7.00" height="7.00" fill="#FF0000" stroke="#000" stroke-width="1.10"/><rect x="376.12" y="185.30" width="7.00" height="7.00" fill="#FF0000" stroke="#000" stroke-width="1.10"/><rect x="382.37" y="190.40" width="7.00" height="7.00" fill="#FF0000" stroke="#000" stroke-width="1.10"/><rect x="388.16" y="195.30" width="7.00" height="7.00" fill="#FF0000" stroke="#000" stroke-width="1.10"/><rect x="393.54" y="200.20" width="7.00" height="7.00" fill="#FF0000" stroke="#000" stroke-width="1.10"/><rect x="398.58" y="204.60" width="7.00" height="7.00" fill="#FF0000" stroke="#000" stroke-width="1.10"/><rect x="403.31" y="208.50" width="7.00" height="7.00" fill="#FF0000" stroke="#000" stroke-width="1.10"/><rect x="407.78" y="212.50" width="7.00" height="7.00" fill="#FF0000" stroke="#000" stroke-width="1.10"/><rect x="412.00" y="216.50" width="7.00" height="7.00" fill="#FF0000" stroke="#000" stroke-width="1.10"/><rect x="416.00" y="222.00" width="7.00" height="7.00" fill="#FF0000" stroke="#000" stroke-width="1.10"/>
<path d="M185.64,150.70 C194.66,141.80 225.46,105.92 239.75,97.30 C254.04,88.68 262.38,97.28 271.40,99.00 C280.42,100.72 287.21,104.63 293.86,107.60 C300.51,110.57 306.00,113.52 311.28,116.80 C316.56,120.08 321.13,124.20 325.51,127.30 C329.89,130.40 333.80,132.60 337.55,135.40 C341.29,138.20 344.70,141.45 347.97,144.10 C351.24,146.75 354.26,148.93 357.16,151.30 C360.07,153.67 362.78,156.00 365.39,158.30 C368.00,160.60 370.46,162.93 372.83,165.10 C375.20,167.27 377.45,169.28 379.62,171.30 C381.80,173.32 383.87,175.33 385.87,177.20 C387.88,179.07 389.79,180.72 391.66,182.50 C393.52,184.28 395.30,186.22 397.04,187.90 C398.78,189.58 400.45,191.05 402.08,192.60 C403.71,194.15 405.28,195.77 406.81,197.20 C408.35,198.63 409.83,199.87 411.28,201.20 C412.72,202.53 414.12,203.82 415.50,205.20 C416.87,206.58 418.83,208.78 419.50,209.50" fill="none" stroke="#00B050" stroke-width="1.7" stroke-linejoin="round"/>
<path d="M185.64,147.30 L189.54,154.10 L181.74,154.10 Z" fill="#00B050" stroke="#000" stroke-width="1.10" stroke-linejoin="miter"/><path d="M239.75,93.90 L243.65,100.70 L235.85,100.70 Z" fill="#00B050" stroke="#000" stroke-width="1.10" stroke-linejoin="miter"/><path d="M271.40,95.60 L275.30,102.40 L267.50,102.40 Z" fill="#00B050" stroke="#000" stroke-width="1.10" stroke-linejoin="miter"/><path d="M293.86,104.20 L297.76,111.00 L289.96,111.00 Z" fill="#00B050" stroke="#000" stroke-width="1.10" stroke-linejoin="miter"/><path d="M311.28,113.40 L315.18,120.20 L307.38,120.20 Z" fill="#00B050" stroke="#000" stroke-width="1.10" stroke-linejoin="miter"/><path d="M325.51,123.90 L329.41,130.70 L321.61,130.70 Z" fill="#00B050" stroke="#000" stroke-width="1.10" stroke-linejoin="miter"/><path d="M337.55,132.00 L341.45,138.80 L333.65,138.80 Z" fill="#00B050" stroke="#000" stroke-width="1.10" stroke-linejoin="miter"/><path d="M347.97,140.70 L351.87,147.50 L344.07,147.50 Z" fill="#00B050" stroke="#000" stroke-width="1.10" stroke-linejoin="miter"/><path d="M357.16,147.90 L361.06,154.70 L353.26,154.70 Z" fill="#00B050" stroke="#000" stroke-width="1.10" stroke-linejoin="miter"/><path d="M365.39,154.90 L369.29,161.70 L361.49,161.70 Z" fill="#00B050" stroke="#000" stroke-width="1.10" stroke-linejoin="miter"/><path d="M372.83,161.70 L376.73,168.50 L368.93,168.50 Z" fill="#00B050" stroke="#000" stroke-width="1.10" stroke-linejoin="miter"/><path d="M379.62,167.90 L383.52,174.70 L375.72,174.70 Z" fill="#00B050" stroke="#000" stroke-width="1.10" stroke-linejoin="miter"/><path d="M385.87,173.80 L389.77,180.60 L381.97,180.60 Z" fill="#00B050" stroke="#000" stroke-width="1.10" stroke-linejoin="miter"/><path d="M391.66,179.10 L395.56,185.90 L387.76,185.90 Z" fill="#00B050" stroke="#000" stroke-width="1.10" stroke-linejoin="miter"/><path d="M397.04,184.50 L400.94,191.30 L393.14,191.30 Z" fill="#00B050" stroke="#000" stroke-width="1.10" stroke-linejoin="miter"/><path d="M402.08,189.20 L405.98,196.00 L398.18,196.00 Z" fill="#00B050" stroke="#000" stroke-width="1.10" stroke-linejoin="miter"/><path d="M406.81,193.80 L410.71,200.60 L402.91,200.60 Z" fill="#00B050" stroke="#000" stroke-width="1.10" stroke-linejoin="miter"/><path d="M411.28,197.80 L415.18,204.60 L407.38,204.60 Z" fill="#00B050" stroke="#000" stroke-width="1.10" stroke-linejoin="miter"/><path d="M415.50,201.80 L419.40,208.60 L411.60,208.60 Z" fill="#00B050" stroke="#000" stroke-width="1.10" stroke-linejoin="miter"/><path d="M419.50,206.10 L423.40,212.90 L415.60,212.90 Z" fill="#00B050" stroke="#000" stroke-width="1.10" stroke-linejoin="miter"/>
<path d="M185.64,164.90 C194.66,155.53 225.46,118.97 239.75,108.70 C254.04,98.43 262.38,102.97 271.40,103.30 C280.42,103.63 287.21,108.37 293.86,110.70 C300.51,113.03 306.00,114.50 311.28,117.30 C316.56,120.10 321.13,124.45 325.51,127.50 C329.89,130.55 333.80,132.78 337.55,135.60 C341.29,138.42 344.70,141.73 347.97,144.40 C351.24,147.07 354.26,149.23 357.16,151.60 C360.07,153.97 362.78,156.30 365.39,158.60 C368.00,160.90 370.46,163.23 372.83,165.40 C375.20,167.57 377.45,169.58 379.62,171.60 C381.80,173.62 383.87,175.63 385.87,177.50 C387.88,179.37 389.79,181.02 391.66,182.80 C393.52,184.58 395.30,186.52 397.04,188.20 C398.78,189.88 400.45,191.35 402.08,192.90 C403.71,194.45 405.28,196.07 406.81,197.50 C408.35,198.93 409.83,200.17 411.28,201.50 C412.72,202.83 414.12,204.12 415.50,205.50 C416.87,206.88 418.83,209.08 419.50,209.80" fill="none" stroke="#0070C0" stroke-width="1.7" stroke-linejoin="round"/>
<path d="M185.64,161.50 L189.54,168.30 L181.74,168.30 Z" fill="#0070C0" stroke="#000" stroke-width="1.10" stroke-linejoin="miter"/><path d="M239.75,105.30 L243.65,112.10 L235.85,112.10 Z" fill="#0070C0" stroke="#000" stroke-width="1.10" stroke-linejoin="miter"/><path d="M271.40,99.90 L275.30,106.70 L267.50,106.70 Z" fill="#0070C0" stroke="#000" stroke-width="1.10" stroke-linejoin="miter"/><path d="M293.86,107.30 L297.76,114.10 L289.96,114.10 Z" fill="#0070C0" stroke="#000" stroke-width="1.10" stroke-linejoin="miter"/><path d="M311.28,113.90 L315.18,120.70 L307.38,120.70 Z" fill="#0070C0" stroke="#000" stroke-width="1.10" stroke-linejoin="miter"/><path d="M325.51,124.10 L329.41,130.90 L321.61,130.90 Z" fill="#0070C0" stroke="#000" stroke-width="1.10" stroke-linejoin="miter"/><path d="M337.55,132.20 L341.45,139.00 L333.65,139.00 Z" fill="#0070C0" stroke="#000" stroke-width="1.10" stroke-linejoin="miter"/><path d="M347.97,141.00 L351.87,147.80 L344.07,147.80 Z" fill="#0070C0" stroke="#000" stroke-width="1.10" stroke-linejoin="miter"/><path d="M357.16,148.20 L361.06,155.00 L353.26,155.00 Z" fill="#0070C0" stroke="#000" stroke-width="1.10" stroke-linejoin="miter"/><path d="M365.39,155.20 L369.29,162.00 L361.49,162.00 Z" fill="#0070C0" stroke="#000" stroke-width="1.10" stroke-linejoin="miter"/><path d="M372.83,162.00 L376.73,168.80 L368.93,168.80 Z" fill="#0070C0" stroke="#000" stroke-width="1.10" stroke-linejoin="miter"/><path d="M379.62,168.20 L383.52,175.00 L375.72,175.00 Z" fill="#0070C0" stroke="#000" stroke-width="1.10" stroke-linejoin="miter"/><path d="M385.87,174.10 L389.77,180.90 L381.97,180.90 Z" fill="#0070C0" stroke="#000" stroke-width="1.10" stroke-linejoin="miter"/><path d="M391.66,179.40 L395.56,186.20 L387.76,186.20 Z" fill="#0070C0" stroke="#000" stroke-width="1.10" stroke-linejoin="miter"/><path d="M397.04,184.80 L400.94,191.60 L393.14,191.60 Z" fill="#0070C0" stroke="#000" stroke-width="1.10" stroke-linejoin="miter"/><path d="M402.08,189.50 L405.98,196.30 L398.18,196.30 Z" fill="#0070C0" stroke="#000" stroke-width="1.10" stroke-linejoin="miter"/><path d="M406.81,194.10 L410.71,200.90 L402.91,200.90 Z" fill="#0070C0" stroke="#000" stroke-width="1.10" stroke-linejoin="miter"/><path d="M411.28,198.10 L415.18,204.90 L407.38,204.90 Z" fill="#0070C0" stroke="#000" stroke-width="1.10" stroke-linejoin="miter"/><path d="M415.50,202.10 L419.40,208.90 L411.60,208.90 Z" fill="#0070C0" stroke="#000" stroke-width="1.10" stroke-linejoin="miter"/><path d="M419.50,206.40 L423.40,213.20 L415.60,213.20 Z" fill="#0070C0" stroke="#000" stroke-width="1.10" stroke-linejoin="miter"/>
<path d="M185.64,174.10 C194.66,164.75 225.46,128.93 239.75,118.00 C254.04,107.07 262.38,109.13 271.40,108.50 C280.42,107.87 287.21,112.03 293.86,114.20 C300.51,116.37 306.00,118.97 311.28,121.50 C316.56,124.03 321.13,126.85 325.51,129.40 C329.89,131.95 333.80,134.10 337.55,136.80 C341.29,139.50 344.70,142.93 347.97,145.60 C351.24,148.27 354.26,150.43 357.16,152.80 C360.07,155.17 362.78,157.50 365.39,159.80 C368.00,162.10 370.46,164.43 372.83,166.60 C375.20,168.77 377.45,170.78 379.62,172.80 C381.80,174.82 383.87,176.83 385.87,178.70 C387.88,180.57 389.79,182.22 391.66,184.00 C393.52,185.78 395.30,187.72 397.04,189.40 C398.78,191.08 400.45,192.55 402.08,194.10 C403.71,195.65 405.28,197.27 406.81,198.70 C408.35,200.13 409.83,201.37 411.28,202.70 C412.72,204.03 414.12,205.32 415.50,206.70 C416.87,208.08 418.83,210.28 419.50,211.00" fill="none" stroke="#FF0000" stroke-width="1.7" stroke-linejoin="round"/>
<path d="M185.64,170.70 L189.54,177.50 L181.74,177.50 Z" fill="#FF0000" stroke="#000" stroke-width="1.10" stroke-linejoin="miter"/><path d="M239.75,114.60 L243.65,121.40 L235.85,121.40 Z" fill="#FF0000" stroke="#000" stroke-width="1.10" stroke-linejoin="miter"/><path d="M271.40,105.10 L275.30,111.90 L267.50,111.90 Z" fill="#FF0000" stroke="#000" stroke-width="1.10" stroke-linejoin="miter"/><path d="M293.86,110.80 L297.76,117.60 L289.96,117.60 Z" fill="#FF0000" stroke="#000" stroke-width="1.10" stroke-linejoin="miter"/><path d="M311.28,118.10 L315.18,124.90 L307.38,124.90 Z" fill="#FF0000" stroke="#000" stroke-width="1.10" stroke-linejoin="miter"/><path d="M325.51,126.00 L329.41,132.80 L321.61,132.80 Z" fill="#FF0000" stroke="#000" stroke-width="1.10" stroke-linejoin="miter"/><path d="M337.55,133.40 L341.45,140.20 L333.65,140.20 Z" fill="#FF0000" stroke="#000" stroke-width="1.10" stroke-linejoin="miter"/><path d="M347.97,142.20 L351.87,149.00 L344.07,149.00 Z" fill="#FF0000" stroke="#000" stroke-width="1.10" stroke-linejoin="miter"/><path d="M357.16,149.40 L361.06,156.20 L353.26,156.20 Z" fill="#FF0000" stroke="#000" stroke-width="1.10" stroke-linejoin="miter"/><path d="M365.39,156.40 L369.29,163.20 L361.49,163.20 Z" fill="#FF0000" stroke="#000" stroke-width="1.10" stroke-linejoin="miter"/><path d="M372.83,163.20 L376.73,170.00 L368.93,170.00 Z" fill="#FF0000" stroke="#000" stroke-width="1.10" stroke-linejoin="miter"/><path d="M379.62,169.40 L383.52,176.20 L375.72,176.20 Z" fill="#FF0000" stroke="#000" stroke-width="1.10" stroke-linejoin="miter"/><path d="M385.87,175.30 L389.77,182.10 L381.97,182.10 Z" fill="#FF0000" stroke="#000" stroke-width="1.10" stroke-linejoin="miter"/><path d="M391.66,180.60 L395.56,187.40 L387.76,187.40 Z" fill="#FF0000" stroke="#000" stroke-width="1.10" stroke-linejoin="miter"/><path d="M397.04,186.00 L400.94,192.80 L393.14,192.80 Z" fill="#FF0000" stroke="#000" stroke-width="1.10" stroke-linejoin="miter"/><path d="M402.08,190.70 L405.98,197.50 L398.18,197.50 Z" fill="#FF0000" stroke="#000" stroke-width="1.10" stroke-linejoin="miter"/><path d="M406.81,195.30 L410.71,202.10 L402.91,202.10 Z" fill="#FF0000" stroke="#000" stroke-width="1.10" stroke-linejoin="miter"/><path d="M411.28,199.30 L415.18,206.10 L407.38,206.10 Z" fill="#FF0000" stroke="#000" stroke-width="1.10" stroke-linejoin="miter"/><path d="M415.50,203.30 L419.40,210.10 L411.60,210.10 Z" fill="#FF0000" stroke="#000" stroke-width="1.10" stroke-linejoin="miter"/><path d="M419.50,207.60 L423.40,214.40 L415.60,214.40 Z" fill="#FF0000" stroke="#000" stroke-width="1.10" stroke-linejoin="miter"/>
<path d="M185.64,16.80 C194.66,20.80 225.46,33.27 239.75,40.80 C254.04,48.33 262.38,55.90 271.40,62.00 C280.42,68.10 287.21,72.40 293.86,77.40 C300.51,82.40 306.00,87.47 311.28,92.00 C316.56,96.53 321.13,100.80 325.51,104.60 C329.89,108.40 333.80,111.48 337.55,114.80 C341.29,118.12 344.70,121.90 347.97,124.50 C351.24,127.10 354.26,128.73 357.16,130.40 C360.07,132.07 362.78,133.33 365.39,134.50 C368.00,135.67 370.46,136.78 372.83,137.40 C375.20,138.02 377.45,138.10 379.62,138.20 C381.80,138.30 383.87,138.33 385.87,138.00 C387.88,137.67 389.79,137.02 391.66,136.20 C393.52,135.38 395.30,134.28 397.04,133.10 C398.78,131.92 400.45,130.48 402.08,129.10 C403.71,127.72 405.28,126.48 406.81,124.80 C408.35,123.12 409.83,120.82 411.28,119.00 C412.72,117.18 414.12,115.47 415.50,113.90 C416.87,112.33 418.83,110.32 419.50,109.60" fill="none" stroke="#00B050" stroke-width="1.7" stroke-linejoin="round"/>
<path d="M185.64,12.75 L189.69,16.80 L185.64,20.85 L181.59,16.80 Z" fill="#00B050" stroke="#000" stroke-width="1.10"/><path d="M239.75,36.75 L243.80,40.80 L239.75,44.85 L235.70,40.80 Z" fill="#00B050" stroke="#000" stroke-width="1.10"/><path d="M271.40,57.95 L275.45,62.00 L271.40,66.05 L267.35,62.00 Z" fill="#00B050" stroke="#000" stroke-width="1.10"/><path d="M293.86,73.35 L297.91,77.40 L293.86,81.45 L289.81,77.40 Z" fill="#00B050" stroke="#000" stroke-width="1.10"/><path d="M311.28,87.95 L315.33,92.00 L311.28,96.05 L307.23,92.00 Z" fill="#00B050" stroke="#000" stroke-width="1.10"/><path d="M325.51,100.55 L329.56,104.60 L325.51,108.65 L321.46,104.60 Z" fill="#00B050" stroke="#000" stroke-width="1.10"/><path d="M337.55,110.75 L341.60,114.80 L337.55,118.85 L333.50,114.80 Z" fill="#00B050" stroke="#000" stroke-width="1.10"/><path d="M347.97,120.45 L352.02,124.50 L347.97,128.55 L343.92,124.50 Z" fill="#00B050" stroke="#000" stroke-width="1.10"/><path d="M357.16,126.35 L361.21,130.40 L357.16,134.45 L353.11,130.40 Z" fill="#00B050" stroke="#000" stroke-width="1.10"/><path d="M365.39,130.45 L369.44,134.50 L365.39,138.55 L361.34,134.50 Z" fill="#00B050" stroke="#000" stroke-width="1.10"/><path d="M372.83,133.35 L376.88,137.40 L372.83,141.45 L368.78,137.40 Z" fill="#00B050" stroke="#000" stroke-width="1.10"/><path d="M379.62,134.15 L383.67,138.20 L379.62,142.25 L375.57,138.20 Z" fill="#00B050" stroke="#000" stroke-width="1.10"/><path d="M385.87,133.95 L389.92,138.00 L385.87,142.05 L381.82,138.00 Z" fill="#00B050" stroke="#000" stroke-width="1.10"/><path d="M391.66,132.15 L395.71,136.20 L391.66,140.25 L387.61,136.20 Z" fill="#00B050" stroke="#000" stroke-width="1.10"/><path d="M397.04,129.05 L401.09,133.10 L397.04,137.15 L392.99,133.10 Z" fill="#00B050" stroke="#000" stroke-width="1.10"/><path d="M402.08,125.05 L406.13,129.10 L402.08,133.15 L398.03,129.10 Z" fill="#00B050" stroke="#000" stroke-width="1.10"/><path d="M406.81,120.75 L410.86,124.80 L406.81,128.85 L402.76,124.80 Z" fill="#00B050" stroke="#000" stroke-width="1.10"/><path d="M411.28,114.95 L415.33,119.00 L411.28,123.05 L407.23,119.00 Z" fill="#00B050" stroke="#000" stroke-width="1.10"/><path d="M415.50,109.85 L419.55,113.90 L415.50,117.95 L411.45,113.90 Z" fill="#00B050" stroke="#000" stroke-width="1.10"/><path d="M419.50,105.55 L423.55,109.60 L419.50,113.65 L415.45,109.60 Z" fill="#00B050" stroke="#000" stroke-width="1.10"/>
<path d="M185.64,33.00 C194.66,35.27 225.46,41.17 239.75,46.60 C254.04,52.03 262.38,60.10 271.40,65.60 C280.42,71.10 287.21,74.93 293.86,79.60 C300.51,84.27 306.00,89.40 311.28,93.60 C316.56,97.80 321.13,101.10 325.51,104.80 C329.89,108.50 333.80,112.47 337.55,115.80 C341.29,119.13 344.70,121.98 347.97,124.80 C351.24,127.62 354.26,130.33 357.16,132.70 C360.07,135.07 362.78,136.95 365.39,139.00 C368.00,141.05 370.46,143.33 372.83,145.00 C375.20,146.67 377.45,147.60 379.62,149.00 C381.80,150.40 383.87,152.13 385.87,153.40 C387.88,154.67 389.79,155.83 391.66,156.60 C393.52,157.37 395.30,157.65 397.04,158.00 C398.78,158.35 400.45,158.57 402.08,158.70 C403.71,158.83 405.28,158.90 406.81,158.80 C408.35,158.70 409.83,158.53 411.28,158.10 C412.72,157.67 414.12,156.78 415.50,156.20 C416.87,155.62 418.83,154.87 419.50,154.60" fill="none" stroke="#0070C0" stroke-width="1.7" stroke-linejoin="round"/>
<path d="M185.64,28.95 L189.69,33.00 L185.64,37.05 L181.59,33.00 Z" fill="#0070C0" stroke="#000" stroke-width="1.10"/><path d="M239.75,42.55 L243.80,46.60 L239.75,50.65 L235.70,46.60 Z" fill="#0070C0" stroke="#000" stroke-width="1.10"/><path d="M271.40,61.55 L275.45,65.60 L271.40,69.65 L267.35,65.60 Z" fill="#0070C0" stroke="#000" stroke-width="1.10"/><path d="M293.86,75.55 L297.91,79.60 L293.86,83.65 L289.81,79.60 Z" fill="#0070C0" stroke="#000" stroke-width="1.10"/><path d="M311.28,89.55 L315.33,93.60 L311.28,97.65 L307.23,93.60 Z" fill="#0070C0" stroke="#000" stroke-width="1.10"/><path d="M325.51,100.75 L329.56,104.80 L325.51,108.85 L321.46,104.80 Z" fill="#0070C0" stroke="#000" stroke-width="1.10"/><path d="M337.55,111.75 L341.60,115.80 L337.55,119.85 L333.50,115.80 Z" fill="#0070C0" stroke="#000" stroke-width="1.10"/><path d="M347.97,120.75 L352.02,124.80 L347.97,128.85 L343.92,124.80 Z" fill="#0070C0" stroke="#000" stroke-width="1.10"/><path d="M357.16,128.65 L361.21,132.70 L357.16,136.75 L353.11,132.70 Z" fill="#0070C0" stroke="#000" stroke-width="1.10"/><path d="M365.39,134.95 L369.44,139.00 L365.39,143.05 L361.34,139.00 Z" fill="#0070C0" stroke="#000" stroke-width="1.10"/><path d="M372.83,140.95 L376.88,145.00 L372.83,149.05 L368.78,145.00 Z" fill="#0070C0" stroke="#000" stroke-width="1.10"/><path d="M379.62,144.95 L383.67,149.00 L379.62,153.05 L375.57,149.00 Z" fill="#0070C0" stroke="#000" stroke-width="1.10"/><path d="M385.87,149.35 L389.92,153.40 L385.87,157.45 L381.82,153.40 Z" fill="#0070C0" stroke="#000" stroke-width="1.10"/><path d="M391.66,152.55 L395.71,156.60 L391.66,160.65 L387.61,156.60 Z" fill="#0070C0" stroke="#000" stroke-width="1.10"/><path d="M397.04,153.95 L401.09,158.00 L397.04,162.05 L392.99,158.00 Z" fill="#0070C0" stroke="#000" stroke-width="1.10"/><path d="M402.08,154.65 L406.13,158.70 L402.08,162.75 L398.03,158.70 Z" fill="#0070C0" stroke="#000" stroke-width="1.10"/><path d="M406.81,154.75 L410.86,158.80 L406.81,162.85 L402.76,158.80 Z" fill="#0070C0" stroke="#000" stroke-width="1.10"/><path d="M411.28,154.05 L415.33,158.10 L411.28,162.15 L407.23,158.10 Z" fill="#0070C0" stroke="#000" stroke-width="1.10"/><path d="M415.50,152.15 L419.55,156.20 L415.50,160.25 L411.45,156.20 Z" fill="#0070C0" stroke="#000" stroke-width="1.10"/><path d="M419.50,150.55 L423.55,154.60 L419.50,158.65 L415.45,154.60 Z" fill="#0070C0" stroke="#000" stroke-width="1.10"/>
<path d="M185.64,48.80 C194.66,49.60 225.46,50.18 239.75,53.60 C254.04,57.02 262.38,64.38 271.40,69.30 C280.42,74.22 287.21,78.67 293.86,83.10 C300.51,87.53 306.00,91.85 311.28,95.90 C316.56,99.95 321.13,103.83 325.51,107.40 C329.89,110.97 333.80,114.08 337.55,117.30 C341.29,120.52 344.70,123.82 347.97,126.70 C351.24,129.58 354.26,132.13 357.16,134.60 C360.07,137.07 362.78,139.20 365.39,141.50 C368.00,143.80 370.46,146.33 372.83,148.40 C375.20,150.47 377.45,152.10 379.62,153.90 C381.80,155.70 383.87,157.58 385.87,159.20 C387.88,160.82 389.79,162.35 391.66,163.60 C393.52,164.85 395.30,165.80 397.04,166.70 C398.78,167.60 400.45,168.25 402.08,169.00 C403.71,169.75 405.28,170.60 406.81,171.20 C408.35,171.80 409.83,172.22 411.28,172.60 C412.72,172.98 414.12,173.07 415.50,173.50 C416.87,173.93 418.83,174.92 419.50,175.20" fill="none" stroke="#FF0000" stroke-width="1.7" stroke-linejoin="round"/>
<path d="M185.64,44.75 L189.69,48.80 L185.64,52.85 L181.59,48.80 Z" fill="#FF0000" stroke="#000" stroke-width="1.10"/><path d="M239.75,49.55 L243.80,53.60 L239.75,57.65 L235.70,53.60 Z" fill="#FF0000" stroke="#000" stroke-width="1.10"/><path d="M271.40,65.25 L275.45,69.30 L271.40,73.35 L267.35,69.30 Z" fill="#FF0000" stroke="#000" stroke-width="1.10"/><path d="M293.86,79.05 L297.91,83.10 L293.86,87.15 L289.81,83.10 Z" fill="#FF0000" stroke="#000" stroke-width="1.10"/><path d="M311.28,91.85 L315.33,95.90 L311.28,99.95 L307.23,95.90 Z" fill="#FF0000" stroke="#000" stroke-width="1.10"/><path d="M325.51,103.35 L329.56,107.40 L325.51,111.45 L321.46,107.40 Z" fill="#FF0000" stroke="#000" stroke-width="1.10"/><path d="M337.55,113.25 L341.60,117.30 L337.55,121.35 L333.50,117.30 Z" fill="#FF0000" stroke="#000" stroke-width="1.10"/><path d="M347.97,122.65 L352.02,126.70 L347.97,130.75 L343.92,126.70 Z" fill="#FF0000" stroke="#000" stroke-width="1.10"/><path d="M357.16,130.55 L361.21,134.60 L357.16,138.65 L353.11,134.60 Z" fill="#FF0000" stroke="#000" stroke-width="1.10"/><path d="M365.39,137.45 L369.44,141.50 L365.39,145.55 L361.34,141.50 Z" fill="#FF0000" stroke="#000" stroke-width="1.10"/><path d="M372.83,144.35 L376.88,148.40 L372.83,152.45 L368.78,148.40 Z" fill="#FF0000" stroke="#000" stroke-width="1.10"/><path d="M379.62,149.85 L383.67,153.90 L379.62,157.95 L375.57,153.90 Z" fill="#FF0000" stroke="#000" stroke-width="1.10"/><path d="M385.87,155.15 L389.92,159.20 L385.87,163.25 L381.82,159.20 Z" fill="#FF0000" stroke="#000" stroke-width="1.10"/><path d="M391.66,159.55 L395.71,163.60 L391.66,167.65 L387.61,163.60 Z" fill="#FF0000" stroke="#000" stroke-width="1.10"/><path d="M397.04,162.65 L401.09,166.70 L397.04,170.75 L392.99,166.70 Z" fill="#FF0000" stroke="#000" stroke-width="1.10"/><path d="M402.08,164.95 L406.13,169.00 L402.08,173.05 L398.03,169.00 Z" fill="#FF0000" stroke="#000" stroke-width="1.10"/><path d="M406.81,167.15 L410.86,171.20 L406.81,175.25 L402.76,171.20 Z" fill="#FF0000" stroke="#000" stroke-width="1.10"/><path d="M411.28,168.55 L415.33,172.60 L411.28,176.65 L407.23,172.60 Z" fill="#FF0000" stroke="#000" stroke-width="1.10"/><path d="M415.50,169.45 L419.55,173.50 L415.50,177.55 L411.45,173.50 Z" fill="#FF0000" stroke="#000" stroke-width="1.10"/><path d="M419.50,171.15 L423.55,175.20 L419.50,179.25 L415.45,175.20 Z" fill="#FF0000" stroke="#000" stroke-width="1.10"/>
<g stroke="#000" stroke-width="2"><line x1="55.00" y1="5.50" x2="60.00" y2="5.50"/><line x1="55.00" y1="178.50" x2="60.00" y2="178.50"/><line x1="55.00" y1="351.50" x2="60.00" y2="351.50"/><line x1="60.00" y1="351.50" x2="60.00" y2="356.50"/><line x1="239.75" y1="351.50" x2="239.75" y2="356.50"/><line x1="419.50" y1="351.50" x2="419.50" y2="356.50"/></g>
<g class="t" font-size="13.6">
<text x="20.40" y="10.20" textLength="24.40" lengthAdjust="spacingAndGlyphs">100</text>
<text x="28.80" y="183.40" textLength="16.40" lengthAdjust="spacingAndGlyphs">10</text>
<text x="36.20" y="356.20" textLength="8.60" lengthAdjust="spacingAndGlyphs">1</text>
<text x="41.00" y="377.20" textLength="36.60" lengthAdjust="spacingAndGlyphs">0.001</text>
<text x="224.80" y="376.90" textLength="29.20" lengthAdjust="spacingAndGlyphs">0.01</text>
<text x="408.10" y="377.50" textLength="21.60" lengthAdjust="spacingAndGlyphs">0.1</text>
</g>
<text class="t" font-size="13.6" x="168.3" y="399.2">Applied Field, <tspan font-style="italic">B</tspan><tspan font-size="9.6" dy="3.3" dx="0.3">app</tspan><tspan dy="-3.3" dx="1.5"> [T]</tspan></text>
<text class="t" font-size="14" transform="translate(12.9,179.3) rotate(-90)" text-anchor="middle">Normalised AC Loss [J/m/cycle/T<tspan font-size="9" dy="-5">2</tspan><tspan dy="5">]</tspan></text>
<rect x="340.2" y="57.9" width="62.5" height="27.9" fill="#fff" stroke="#000" stroke-width="1.6"/>
<text class="t" font-size="14" x="371.4" y="76.6" text-anchor="middle">Lift-off</text>
<rect x="259" y="220.6" width="103.3" height="28.4" fill="#fff" stroke="#000" stroke-width="1.6"/>
<text class="t" font-size="14" x="310.6" y="241.4" text-anchor="middle">Maxima, <tspan font-style="italic">B</tspan><tspan font-size="11" dy="3">th</tspan></text>
<path d="M184.30,52.60 L191.00,64.80 L177.60,64.80 Z" fill="#000"/><rect x="182.80" y="64.30" width="3.00" height="13.20" fill="#000"/>
<path d="M251.20,113.90 L257.90,126.70 L244.50,126.70 Z" fill="#000"/><rect x="249.70" y="126.20" width="3.00" height="13.40" fill="#000"/>
<path d="M284.60,151.50 L291.30,164.50 L277.90,164.50 Z" fill="#000"/><rect x="283.10" y="164.00" width="3.00" height="12.80" fill="#000"/>
<path d="M310.40,180.40 L317.10,193.80 L303.70,193.80 Z" fill="#000"/><rect x="308.90" y="193.30" width="3.00" height="27.30" fill="#000"/>
<rect x="370.00" y="86.00" width="3.00" height="27.90" fill="#000"/><path d="M371.50,126.80 L378.10,113.40 L364.90,113.40 Z" fill="#000"/>
<rect x="442.20" y="26.90" width="106.00" height="355.10" fill="#fff" stroke="#000" stroke-width="1.6"/>
<line x1="447" y1="39.10" x2="470.5" y2="39.10" stroke="#00B050" stroke-width="1.7"/>
<text class="t" font-size="12.8" transform="translate(472.7,43.60) scale(0.94,1)">20 Hz</text>
<line x1="447" y1="62.74" x2="470.5" y2="62.74" stroke="#0070C0" stroke-width="1.7"/>
<text class="t" font-size="12.8" transform="translate(472.7,67.24) scale(0.94,1)">50 Hz</text>
<line x1="447" y1="86.38" x2="470.5" y2="86.38" stroke="#FF0000" stroke-width="1.7"/>
<text class="t" font-size="12.8" transform="translate(472.7,90.88) scale(0.94,1)">100 Hz</text>
<line x1="447" y1="110.02" x2="470.5" y2="110.02" stroke="#00B050" stroke-width="1.7"/>
<circle cx="458.70" cy="110.02" r="3.60" fill="#00B050" stroke="#000" stroke-width="1.10"/>
<text class="t" font-size="12.8" transform="translate(472.7,114.52) scale(0.94,1)">0.3 Ic 20 Hz</text>
<line x1="447" y1="133.66" x2="470.5" y2="133.66" stroke="#4A7DD3" stroke-width="1.7"/>
<circle cx="458.70" cy="133.66" r="3.60" fill="#4A7DD3" stroke="#000" stroke-width="1.10"/>
<text class="t" font-size="12.8" transform="translate(472.7,138.16) scale(0.94,1)">0.3 Ic 50 Hz</text>
<line x1="447" y1="157.30" x2="470.5" y2="157.30" stroke="#FF0000" stroke-width="1.7"/>
<circle cx="458.70" cy="157.30" r="3.60" fill="#FF0000" stroke="#000" stroke-width="1.10"/>
<text class="t" font-size="12.8" transform="translate(472.7,161.80) scale(0.94,1)">0.3 Ic 100 Hz</text>
<line x1="447" y1="180.94" x2="470.5" y2="180.94" stroke="#00B050" stroke-width="1.7"/>
<rect x="455.20" y="177.44" width="7.00" height="7.00" fill="#00B050" stroke="#000" stroke-width="1.10"/>
<text class="t" font-size="12.8" transform="translate(472.7,185.44) scale(0.94,1)">0.5 Ic 20 Hz</text>
<line x1="447" y1="204.58" x2="470.5" y2="204.58" stroke="#0070C0" stroke-width="1.7"/>
<rect x="455.20" y="201.08" width="7.00" height="7.00" fill="#0070C0" stroke="#000" stroke-width="1.10"/>
<text class="t" font-size="12.8" transform="translate(472.7,209.08) scale(0.94,1)">0.5 Ic 50 Hz</text>
<line x1="447" y1="228.22" x2="470.5" y2="228.22" stroke="#FF0000" stroke-width="1.7"/>
<rect x="455.20" y="224.72" width="7.00" height="7.00" fill="#FF0000" stroke="#000" stroke-width="1.10"/>
<text class="t" font-size="12.8" transform="translate(472.7,232.72) scale(0.94,1)">0.5 Ic 100 Hz</text>
<line x1="447" y1="251.86" x2="470.5" y2="251.86" stroke="#00B050" stroke-width="1.7"/>
<path d="M458.70,248.46 L462.60,255.26 L454.80,255.26 Z" fill="#00B050" stroke="#000" stroke-width="1.10" stroke-linejoin="miter"/>
<text class="t" font-size="12.8" transform="translate(472.7,256.36) scale(0.94,1)">0.7 Ic 20 Hz</text>
<line x1="447" y1="275.50" x2="470.5" y2="275.50" stroke="#0070C0" stroke-width="1.7"/>
<path d="M458.70,272.10 L462.60,278.90 L454.80,278.90 Z" fill="#0070C0" stroke="#000" stroke-width="1.10" stroke-linejoin="miter"/>
<text class="t" font-size="12.8" transform="translate(472.7,280.00) scale(0.94,1)">0.7 Ic 50 Hz</text>
<line x1="447" y1="299.14" x2="470.5" y2="299.14" stroke="#FF0000" stroke-width="1.7"/>
<path d="M458.70,295.74 L462.60,302.54 L454.80,302.54 Z" fill="#FF0000" stroke="#000" stroke-width="1.10" stroke-linejoin="miter"/>
<text class="t" font-size="12.8" transform="translate(472.7,303.64) scale(0.94,1)">0.7 Ic 100 Hz</text>
<line x1="447" y1="322.78" x2="470.5" y2="322.78" stroke="#00B050" stroke-width="1.7"/>
<path d="M458.70,318.73 L462.75,322.78 L458.70,326.83 L454.65,322.78 Z" fill="#00B050" stroke="#000" stroke-width="1.10"/>
<text class="t" font-size="12.8" transform="translate(472.7,327.28) scale(0.94,1)">0.9 Ic 20 Hz</text>
<line x1="447" y1="346.42" x2="470.5" y2="346.42" stroke="#0070C0" stroke-width="1.7"/>
<path d="M458.70,342.37 L462.75,346.42 L458.70,350.47 L454.65,346.42 Z" fill="#0070C0" stroke="#000" stroke-width="1.10"/>
<text class="t" font-size="12.8" transform="translate(472.7,350.92) scale(0.94,1)">0.9 Ic 50 Hz</text>
<line x1="447" y1="370.06" x2="470.5" y2="370.06" stroke="#FF0000" stroke-width="1.7"/>
<path d="M458.70,366.01 L462.75,370.06 L458.70,374.11 L454.65,370.06 Z" fill="#FF0000" stroke="#000" stroke-width="1.10"/>
<text class="t" font-size="12.8" transform="translate(472.7,374.56) scale(0.94,1)">0.9 Ic 100 Hz</text>
</svg></body></html>
